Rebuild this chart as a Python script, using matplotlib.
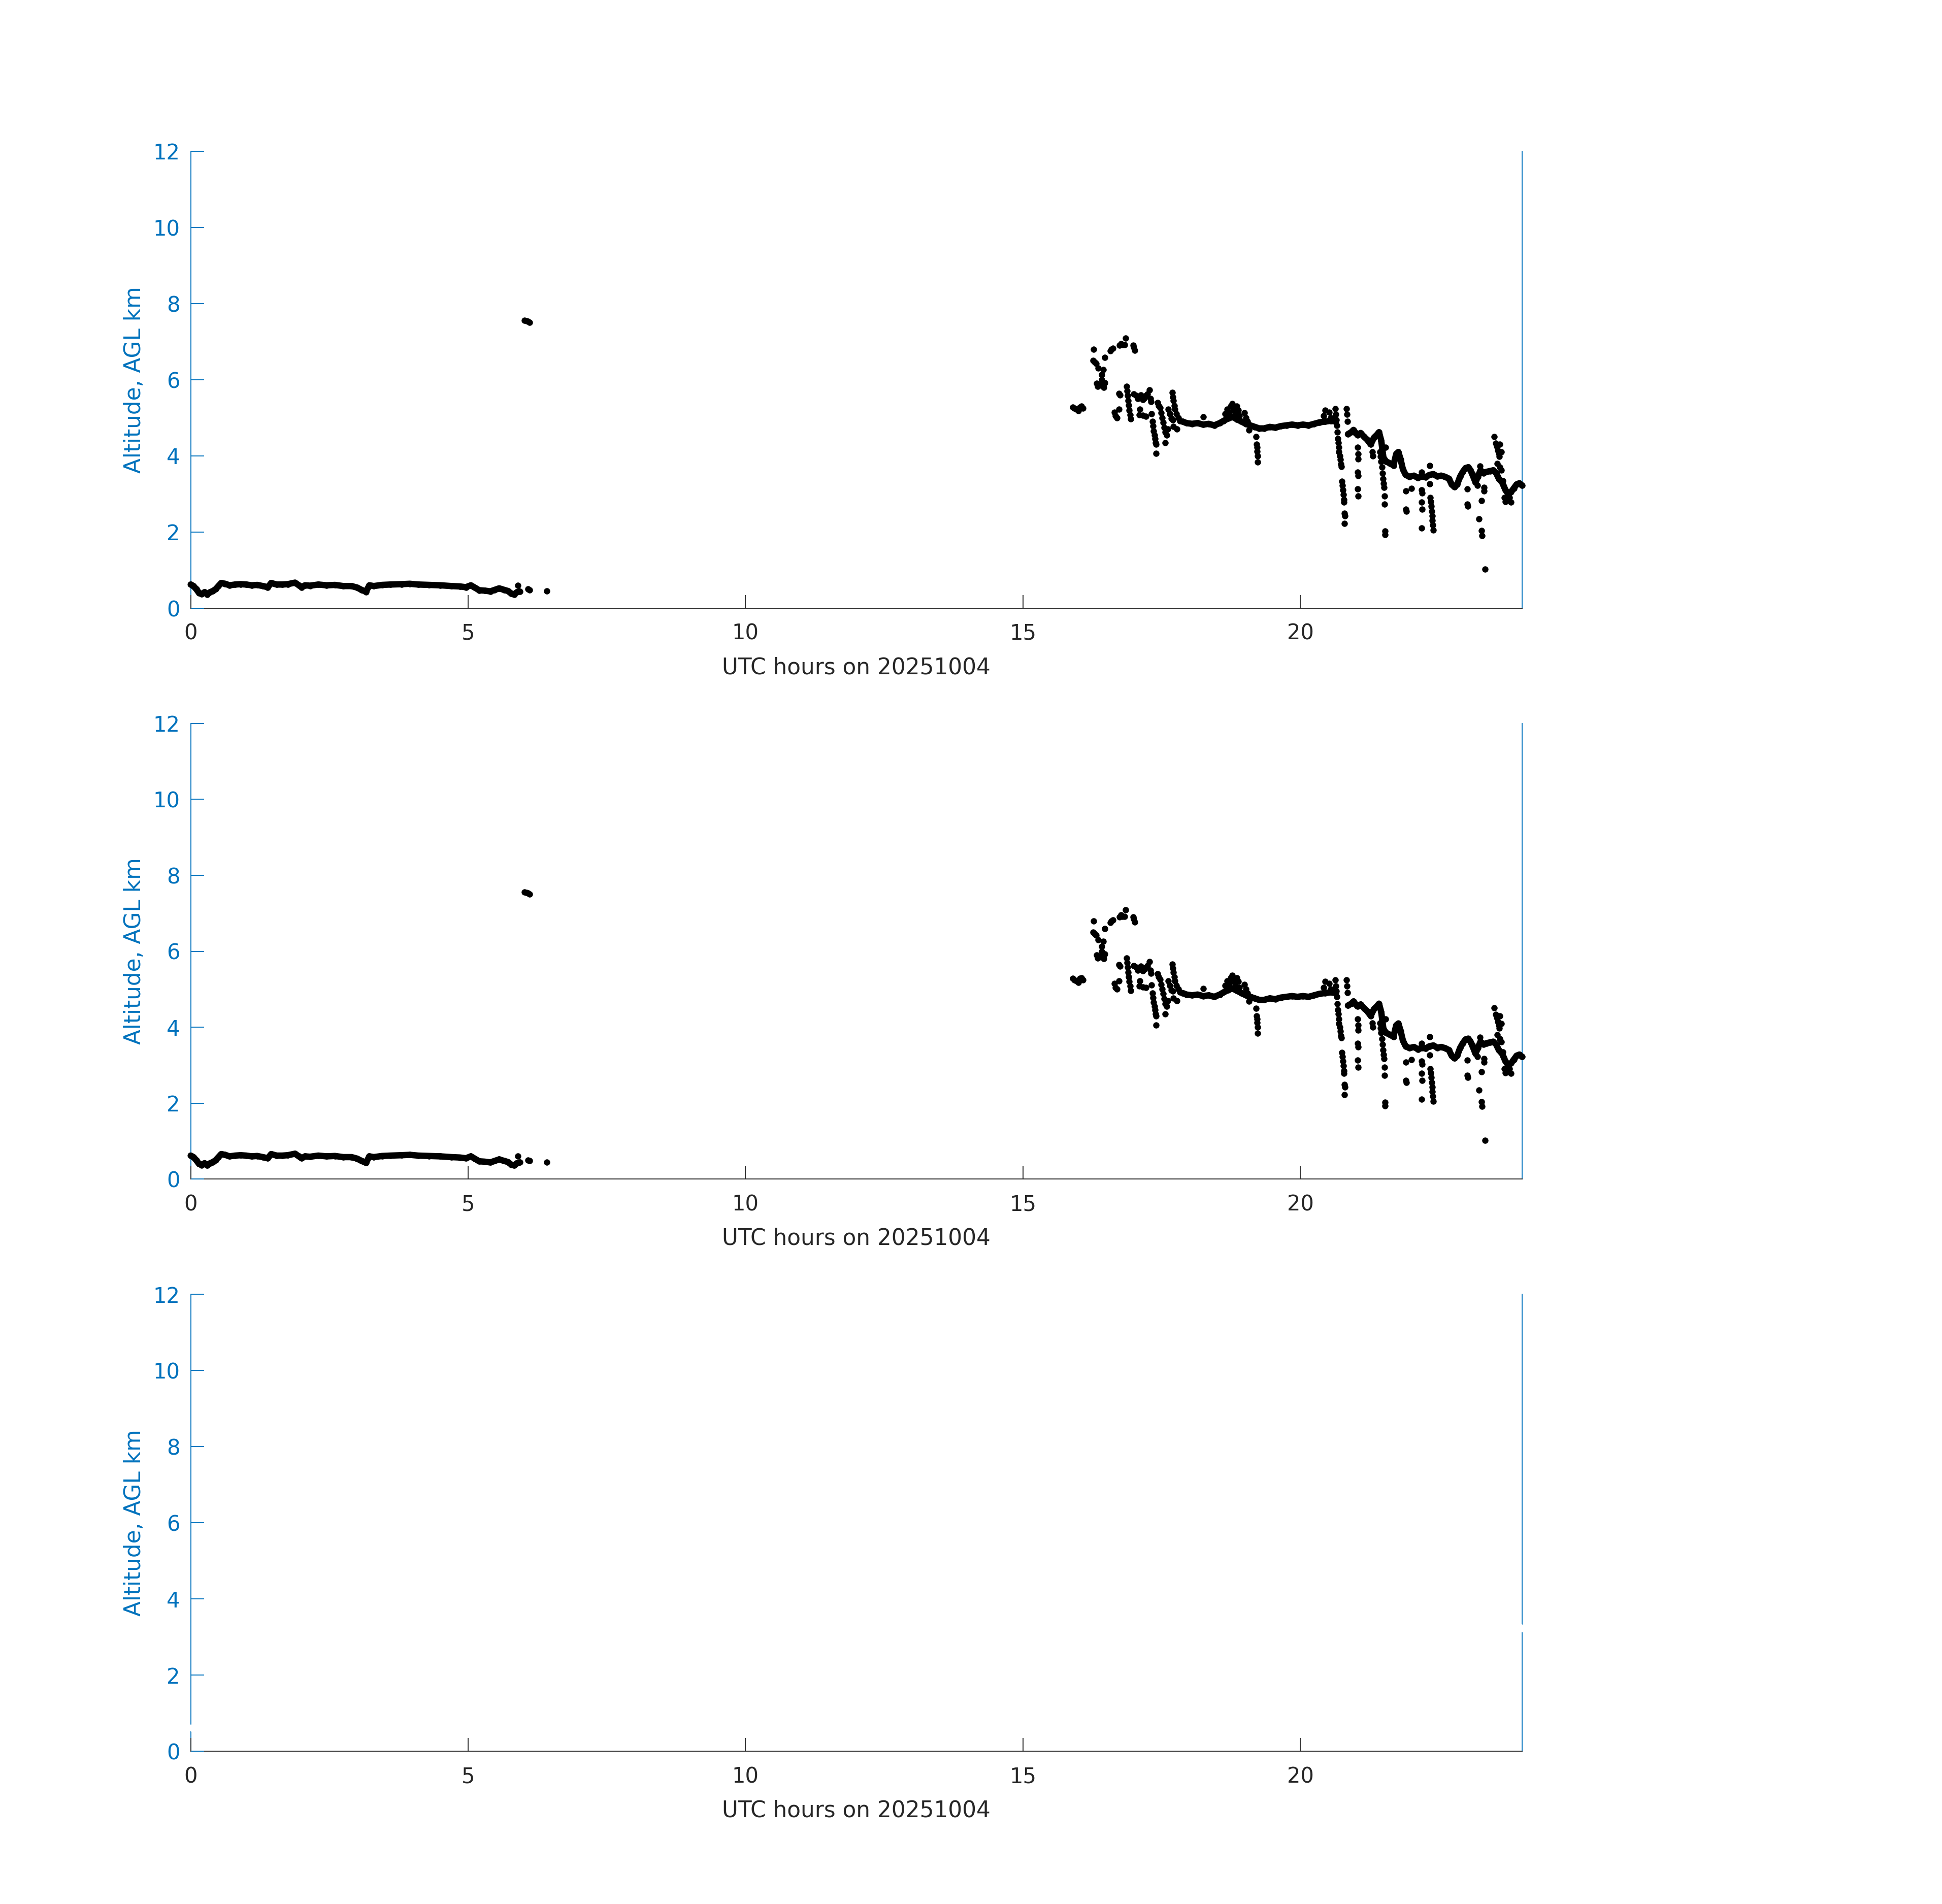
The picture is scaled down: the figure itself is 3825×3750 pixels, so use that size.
import matplotlib
matplotlib.use("Agg")
import matplotlib.pyplot as plt
import numpy as np

plt.rcParams['font.family'] = ['DejaVu Sans']

# ---------------- data (UTC hours, altitude km AGL) ----------------
low_t = [0.00, 0.05, 0.10, 0.15, 0.20, 0.25, 0.30, 0.35, 0.40, 0.45,
         0.50, 0.55, 0.62, 0.70, 0.80, 0.90, 1.00, 1.10, 1.20, 1.30,
         1.39, 1.45, 1.55, 1.65, 1.75, 1.88, 1.95, 2.00, 2.06, 2.15,
         2.30, 2.45, 2.60, 2.75, 2.90, 3.00, 3.08, 3.16, 3.22, 3.30,
         3.45, 3.60, 3.80, 3.95, 4.10, 4.30, 4.50, 4.70, 4.85, 4.96,
         5.05, 5.12, 5.20, 5.30, 5.40, 5.48, 5.56, 5.65, 5.72, 5.78,
         5.83, 5.88, 5.93]
low_alt = [0.62, 0.58, 0.50, 0.40, 0.37, 0.42, 0.36, 0.42, 0.45, 0.50,
           0.58, 0.66, 0.64, 0.60, 0.62, 0.63, 0.62, 0.60, 0.61, 0.58,
           0.55, 0.66, 0.62, 0.62, 0.63, 0.67, 0.60, 0.55, 0.60, 0.59,
           0.62, 0.60, 0.61, 0.58, 0.58, 0.54, 0.48, 0.43, 0.60, 0.58,
           0.61, 0.62, 0.63, 0.64, 0.62, 0.61, 0.60, 0.58, 0.57, 0.55,
           0.60, 0.54, 0.47, 0.46, 0.44, 0.48, 0.52, 0.48, 0.45, 0.38,
           0.36, 0.42, 0.44]

iso_pts = [(5.90, 0.60), (6.08, 0.50), (6.11, 0.48), (6.42, 0.45),
           (6.02, 7.56), (6.05, 7.55), (6.08, 7.53), (6.11, 7.51)]

hiA_t = [17.88, 17.95, 18.05, 18.15, 18.25, 18.35, 18.45, 18.55, 18.62, 18.70,
         18.78, 18.86, 18.94, 19.02, 19.10, 19.18, 19.26, 19.35, 19.45, 19.55,
         19.65, 19.75, 19.85, 19.95, 20.05, 20.15, 20.25, 20.35, 20.45, 20.55,
         20.64]
hiA_alt = [4.90, 4.86, 4.84, 4.86, 4.82, 4.84, 4.80, 4.86, 4.92, 4.98,
           5.02, 4.96, 4.90, 4.84, 4.80, 4.76, 4.72, 4.72, 4.76, 4.74,
           4.78, 4.80, 4.82, 4.80, 4.82, 4.80, 4.84, 4.88, 4.90, 4.92,
           4.90]

hiB_t = [20.86, 20.92, 20.96, 21.00, 21.03, 21.09, 21.15, 21.21, 21.27, 21.33,
         21.38, 21.42, 21.46, 21.50, 21.55, 21.62, 21.68, 21.73, 21.77, 21.81,
         21.85, 21.90, 21.97, 22.05, 22.12, 22.19, 22.26, 22.33, 22.40, 22.47,
         22.54, 22.61, 22.68, 22.73, 22.78, 22.83, 22.88, 22.93, 22.98, 23.03,
         23.07, 23.12, 23.16, 23.20, 23.25, 23.30, 23.36, 23.42, 23.48, 23.53,
         23.58, 23.64, 23.70, 23.75, 23.80, 23.85, 23.90, 23.95, 24.00]
hiB_alt = [4.57, 4.62, 4.68, 4.60, 4.55, 4.60, 4.50, 4.42, 4.30, 4.48,
           4.55, 4.62, 4.40, 3.95, 3.85, 3.80, 3.75, 4.05, 4.10, 3.90,
           3.65, 3.50, 3.45, 3.48, 3.42, 3.46, 3.44, 3.50, 3.52, 3.46,
           3.48, 3.45, 3.40, 3.25, 3.18, 3.25, 3.45, 3.58, 3.68, 3.70,
           3.62, 3.45, 3.30, 3.45, 3.62, 3.55, 3.58, 3.60, 3.62, 3.55,
           3.40, 3.30, 3.10, 3.00, 3.05, 3.15, 3.25, 3.28, 3.22]

early_pts = [(15.90, 5.28), (15.93, 5.25), (15.96, 5.22), (16.00, 5.18), (16.03, 5.28),
             (16.06, 5.30), (16.08, 5.25),
             (16.28, 6.80), (16.27, 6.50), (16.29, 6.46), (16.32, 6.42), (16.36, 6.30),
             (16.42, 6.13), (16.45, 6.26), (16.42, 6.00), (16.33, 5.90), (16.35, 5.82),
             (16.38, 5.85), (16.43, 5.88), (16.46, 5.80), (16.48, 5.92), (16.48, 6.59),
             (16.58, 6.76), (16.60, 6.80), (16.62, 6.82), (16.74, 6.90), (16.77, 6.95),
             (16.80, 6.92), (16.83, 6.92), (16.85, 7.09), (16.99, 6.90), (17.00, 6.85),
             (17.02, 6.77),
             (16.65, 5.15), (16.67, 5.05), (16.70, 5.00), (16.73, 5.22), (16.73, 5.64),
             (16.75, 5.60)]

mid_pts = [(16.87, 5.82), (16.88, 5.70), (16.89, 5.58), (16.90, 5.45), (16.91, 5.33),
           (16.92, 5.20), (16.93, 5.08), (16.94, 4.97),
           (17.00, 5.62), (17.04, 5.58), (17.07, 5.50), (17.10, 5.55), (17.13, 5.60),
           (17.16, 5.48), (17.19, 5.52), (17.22, 5.58), (17.25, 5.62), (17.28, 5.73),
           (17.30, 5.50), (17.31, 5.42),
           (17.11, 5.22), (17.10, 5.08), (17.16, 5.06), (17.22, 5.04), (17.32, 5.11),
           (17.34, 4.90), (17.35, 4.78), (17.36, 4.65), (17.37, 4.55), (17.38, 4.45),
           (17.39, 4.35), (17.40, 4.30), (17.40, 4.06),
           (17.43, 5.40), (17.45, 5.32), (17.47, 5.26),
           (17.49, 5.13), (17.51, 5.00), (17.53, 4.88), (17.55, 4.75), (17.57, 4.62),
           (17.59, 4.55), (17.57, 4.35), (17.61, 4.70),
           (17.62, 5.22), (17.65, 5.10), (17.68, 4.98), (17.70, 4.95),
           (17.69, 5.66), (17.70, 5.55), (17.71, 5.45), (17.73, 5.32),
           (17.71, 4.77), (17.78, 4.70),
           (17.74, 5.22), (17.77, 5.10), (17.80, 5.00), (17.83, 4.92)]

plateau_pts = [(18.25, 5.02),
               (18.65, 5.10), (18.68, 5.22), (18.72, 5.15), (18.75, 5.30), (18.77, 5.37),
               (18.80, 5.20), (18.83, 5.10), (18.86, 5.30), (18.88, 5.20), (18.90, 5.05),
               (18.70, 5.05), (18.82, 5.02),
               (18.99, 5.13), (19.02, 5.00), (19.05, 4.90), (19.08, 4.68),
               (19.20, 4.50), (19.21, 4.30), (19.22, 4.22), (19.22, 4.12), (19.23, 4.00),
               (19.23, 3.84),
               (20.42, 5.05), (20.45, 5.20), (20.52, 5.15), (20.55, 5.00), (20.60, 4.98),
               (20.63, 5.24), (20.64, 5.09), (20.65, 4.95)]

late_pts = [(20.66, 4.80), (20.67, 4.62), (20.68, 4.45), (20.69, 4.35), (20.70, 4.22),
            (20.70, 4.10), (20.71, 4.00), (20.72, 3.90), (20.73, 3.78), (20.74, 3.72),
            (20.75, 3.33), (20.76, 3.22), (20.77, 3.10), (20.78, 2.98), (20.79, 2.85),
            (20.79, 2.78), (20.80, 2.49), (20.81, 2.42), (20.80, 2.22),
            (20.83, 5.24), (20.84, 5.09), (20.85, 4.91),
            (21.03, 4.22), (21.04, 4.05), (21.04, 3.92), (21.03, 3.57), (21.04, 3.48),
            (21.03, 3.13), (21.04, 2.95),
            (21.30, 4.11), (21.31, 4.00), (21.44, 4.11),
            (21.45, 3.98), (21.46, 3.85), (21.47, 3.70), (21.48, 3.55), (21.49, 3.40),
            (21.50, 3.28), (21.51, 3.17), (21.52, 2.95), (21.52, 2.73), (21.53, 2.02),
            (21.53, 1.93), (21.54, 4.22),
            (21.90, 3.08), (21.90, 2.60), (21.91, 2.55), (22.00, 3.15),
            (22.19, 3.57), (22.19, 3.10), (22.20, 3.02), (22.19, 2.78), (22.20, 2.60),
            (22.19, 2.11),
            (22.33, 3.75), (22.33, 3.26),
            (22.34, 2.91), (22.35, 2.80), (22.36, 2.68), (22.37, 2.55), (22.38, 2.42),
            (22.38, 2.30), (22.39, 2.18), (22.40, 2.05),
            (23.01, 3.13), (23.01, 2.73), (23.02, 2.68),
            (23.10, 3.53), (23.14, 3.40), (23.19, 3.22),
            (23.24, 3.73), (23.22, 2.35), (23.27, 2.82), (23.27, 2.04), (23.28, 1.91),
            (23.31, 3.17), (23.31, 3.08), (23.33, 1.02),
            (23.50, 4.51), (23.52, 4.33), (23.54, 4.25), (23.56, 4.15), (23.58, 4.06),
            (23.59, 3.98), (23.55, 3.80), (23.60, 3.70), (23.62, 3.62), (23.60, 4.30),
            (23.62, 4.10),
            (23.65, 3.35), (23.67, 3.20), (23.68, 2.91), (23.70, 2.80), (23.77, 2.90),
            (23.80, 2.78)]

x_ticks = [0, 5, 10, 15, 20]
y_ticks = [0, 2, 4, 6, 8, 10, 12]
x_label = "UTC hours on 20251004"
y_label = "Altitude, AGL km"

# ---------------- styling ----------------
BLUE = (0.0, 0.447, 0.741)
DARK = (0.15, 0.15, 0.15)

fig = plt.figure(figsize=(12.75, 12.5), dpi=300)
positions = [[0.0982, 0.6806, 0.6856, 0.2400],
             [0.0982, 0.3807, 0.6856, 0.2394],
             [0.0982, 0.0802, 0.6856, 0.2400]]
colors = ['black', 'black', 'white']

scatter_groups = [iso_pts, early_pts, mid_pts, plateau_pts, late_pts]

for pos, col in zip(positions, colors):
    ax = fig.add_axes(pos)
    ax.set_axisbelow(False)
    trace_kw = dict(color=col, lw=3.0, marker='o', ms=3.0, mew=0,
                    solid_capstyle='round', solid_joinstyle='round',
                    zorder=3, clip_on=False)
    ax.plot(low_t, low_alt, **trace_kw)
    ax.plot(hiA_t, hiA_alt, **trace_kw)
    ax.plot(hiB_t, hiB_alt, **trace_kw)
    for grp in scatter_groups:
        gt = [p[0] for p in grp]
        ga = [p[1] for p in grp]
        ax.plot(gt, ga, linestyle='none', marker='o', ms=3.0, mew=0,
                color=col, zorder=3, clip_on=False)

    ax.set_xlim(0, 24)
    ax.set_ylim(0, 12)
    ax.set_xticks(x_ticks)
    ax.set_yticks(y_ticks)

    ax.spines['top'].set_visible(False)
    ax.spines['left'].set_color(BLUE)
    ax.spines['right'].set_color(BLUE)
    ax.spines['bottom'].set_color(DARK)
    for s in ax.spines.values():
        s.set_linewidth(0.45)

    ax.tick_params(axis='y', direction='in', length=6.3, width=0.45,
                   colors=BLUE, labelsize=10, pad=5, right=False, left=True)
    ax.tick_params(axis='x', direction='in', length=6.3, width=0.45,
                   colors=DARK, labelsize=10, pad=7, top=False)

    ax.set_xlabel(x_label, fontsize=10.5, color=DARK)
    ax.set_ylabel(y_label, fontsize=10.5, color=BLUE)
    ax.xaxis.set_label_coords(0.5, -0.106)
    ax.yaxis.set_label_coords(-0.034, 0.5)

fig.savefig("out.png", dpi=300, facecolor='white')
